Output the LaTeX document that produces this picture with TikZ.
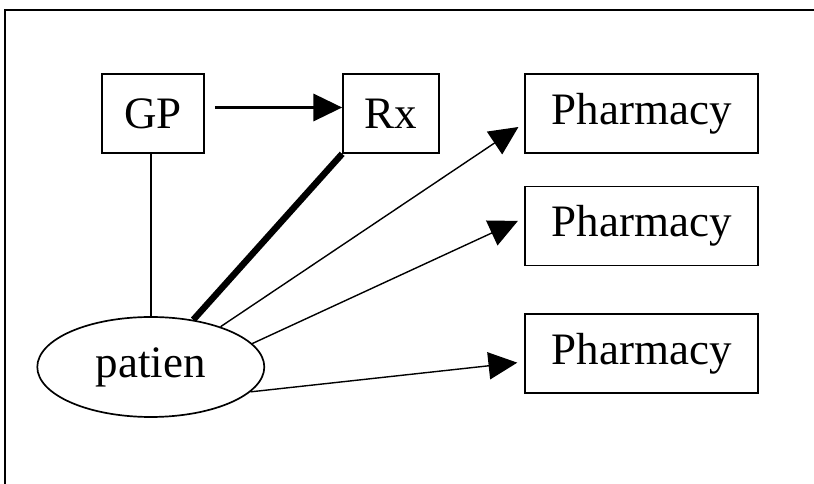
\documentclass[tikz,border=0pt]{standalone}
\usepackage{fontspec}
\setmainfont{Liberation Serif}
\usetikzlibrary{arrows.meta,shapes.geometric}

\begin{document}
\begin{tikzpicture}[font=\fontsize{32}{38}\selectfont,
        box/.style={draw,line width=1.2pt,minimum height=1.975cm,inner sep=0pt,align=center},
        oval/.style={draw,ellipse,line width=1.2pt,minimum width=5.675cm,minimum height=2.5cm,inner sep=0pt},
        link/.style={line width=1pt},
        arr/.style={-{Triangle[length=0.72cm,width=0.68cm]},line width=1pt,shorten >=0.175cm}]
        \useasboundingbox (0,0) rectangle (20.35,12.1);
        \draw[line width=1.2pt] (0.125,0) |- (20.35,11.85);
        \node[box,minimum width=2.55cm] (gp) at (3.825,9.2625) {GP};
        \node[box,minimum width=2.4cm] (rx) at (9.775,9.2625) {Rx};
        \node[box,minimum width=5.825cm] (ph1) at (16.04,9.2625) {Pharmacy};
        \node[box,minimum width=5.825cm] (ph2) at (16.04,6.45) {Pharmacy};
        \node[box,minimum width=5.825cm] (ph3) at (16.04,3.2625) {Pharmacy};
        \node[oval] (pt) at (3.77,2.925) {patien};
        \draw[arr,line width=2pt,shorten <=0.25cm,shorten >=0pt]
            ([yshift=0.15cm]gp.east) -- ([yshift=0.15cm]rx.west);
        \draw[link] (pt.north) -- (pt.north |- gp.south);
        \draw[line width=4.6pt] (rx.south west) -- (pt.48);
        \draw[arr] (pt.30) -- ([yshift=-0.24cm]ph1.west);
        \draw[arr] (pt.13) -- ([yshift=0.2cm]ph2.west);
        \draw[arr] (pt.-14) -- ([yshift=-0.21cm]ph3.west);
      \end{tikzpicture}
\end{document}
